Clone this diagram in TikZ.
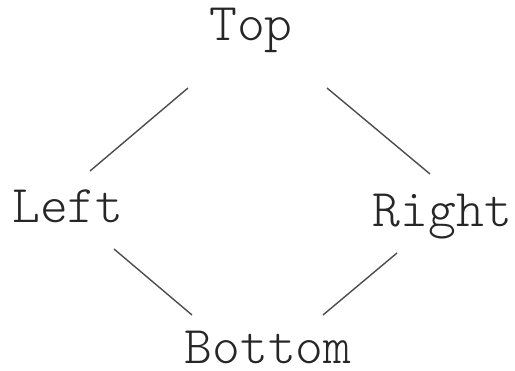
\documentclass[tikz,border=0pt]{standalone}
\usetikzlibrary{calc}
\begin{document}
\begin{tikzpicture}[x=1pt,y=-1pt,
  lbl/.style={anchor=base,inner sep=0pt,font=\ttfamily\fontseries{l}\fontsize{53}{53}\selectfont,text=black!85},
  conn/.style={draw=black!70,line width=1.4pt}]
\useasboundingbox (0,0) rectangle (515,371);
\node[lbl] (Top) at (251,41) {Top};
\node[lbl] (Left) at (68,223) {Left};
\node[lbl] (Right) at (442.5,227) {Right};
\node[lbl] (Bottom) at (268,364) {Bottom};
\draw[conn] ($(Top.base)+(-63,47)$) -- ($(Left.base)+(22,-52)$);
\draw[conn] ($(Top.base)+(76,47)$) -- ($(Right.base)+(-12.5,-53)$);
\draw[conn] ($(Left.base)+(46,26)$) -- ($(Bottom.base)+(-76,-49)$);
\draw[conn] ($(Right.base)+(-45.5,26)$) -- ($(Bottom.base)+(55,-49)$);
\end{tikzpicture}
\end{document}
